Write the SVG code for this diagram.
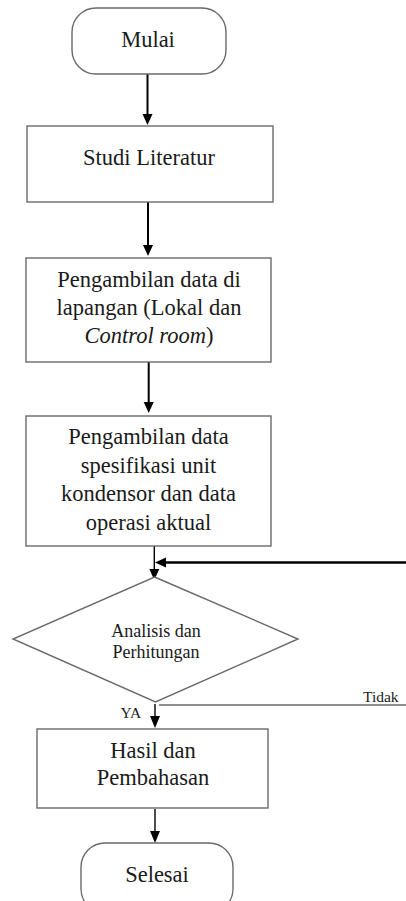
<svg xmlns="http://www.w3.org/2000/svg" width="406" height="901" viewBox="0 0 406 901">
<style>
  .box { fill: #fff; stroke: #6a6a6a; stroke-width: 1.4; }
  text { font-family: 'Liberation Serif', 'DejaVu Serif', serif; fill: #1a1a1a; }
  .t { font-size: 22.5px; text-anchor: middle; }
  .ts { font-size: 18px; text-anchor: middle; }
  .tl { font-size: 15.5px; }
  .a { stroke: #000; stroke-width: 2; fill: none; }
  .a2 { stroke: #000; stroke-width: 1.4; fill: none; }
  .ah { fill: #000; }
</style>
<rect width="406" height="901" fill="#fff"/>
<g id="connectors">
  <line class="a" x1="147.5" y1="74" x2="147.5" y2="114"/>
  <polygon class="ah" points="142.5,114 152.5,114 147.5,125"/>
  <line class="a" x1="148" y1="202" x2="148" y2="245"/>
  <polygon class="ah" points="143,245 153,245 148,256"/>
  <line class="a" x1="148.7" y1="362" x2="148.7" y2="402"/>
  <polygon class="ah" points="143.7,402 153.7,402 148.7,413"/>
  <line class="a2" x1="154.3" y1="546" x2="154.3" y2="570"/>
  <polygon class="ah" points="149.3,569 159.3,569 154.3,580"/>
  <line x1="406" y1="562.5" x2="165" y2="562.5" stroke="#000" stroke-width="2.4"/>
  <polygon class="ah" points="166,557.5 166,567.5 155,562.5"/>
  <line x1="159" y1="705" x2="406" y2="705" stroke="#6a6a6a" stroke-width="1.4"/>
  <text class="tl" x="363" y="701.5" font-family="Liberation Serif, serif">Tidak</text>
  <text class="tl" x="120.5" y="718" font-family="Liberation Serif, serif">YA</text>
  <line class="a2" x1="155" y1="704" x2="155" y2="717"/>
  <polygon class="ah" points="150,716 160,716 155,728"/>
  <line class="a2" x1="155" y1="809" x2="155" y2="832"/>
  <polygon class="ah" points="150,831 160,831 155,843"/>
</g>
<g id="mulai">
  <rect class="box" x="72" y="8" width="154" height="66" rx="24" ry="24"/>
  <text class="t" x="148" y="47">Mulai</text>
</g>
<g id="studi">
  <rect class="box" x="27" y="126" width="246" height="76"/>
  <text class="t" x="149" y="165">Studi Literatur</text>
</g>
<g id="lapangan">
  <rect class="box" x="26" y="258" width="245" height="104"/>
  <text class="t" x="149" y="287">Pengambilan data di</text>
  <text class="t" x="149" y="315">lapangan (Lokal dan</text>
  <text class="t" x="149" y="343"><tspan font-style="italic">Control room</tspan>)</text>
</g>
<g id="spesifikasi">
  <rect class="box" x="26" y="416" width="245" height="130"/>
  <text class="t" x="148.5" y="444">Pengambilan data</text>
  <text class="t" x="148.5" y="473">spesifikasi unit</text>
  <text class="t" x="148.5" y="501">kondensor dan data</text>
  <text class="t" x="148.5" y="530">operasi aktual</text>
</g>
<g id="analisis">
  <polygon class="box" points="154.5,577 298,639 155.5,702 13,639"/>
  <text class="ts" x="156" y="637">Analisis dan</text>
  <text class="ts" x="156" y="658">Perhitungan</text>
</g>
<g id="hasil">
  <rect class="box" x="37" y="729" width="231" height="79"/>
  <text class="t" x="153" y="758">Hasil dan</text>
  <text class="t" x="153" y="785">Pembahasan</text>
</g>
<g id="selesai">
  <rect class="box" x="81" y="843" width="152" height="70" rx="24" ry="24"/>
  <text class="t" x="157" y="882">Selesai</text>
</g>
</svg>
